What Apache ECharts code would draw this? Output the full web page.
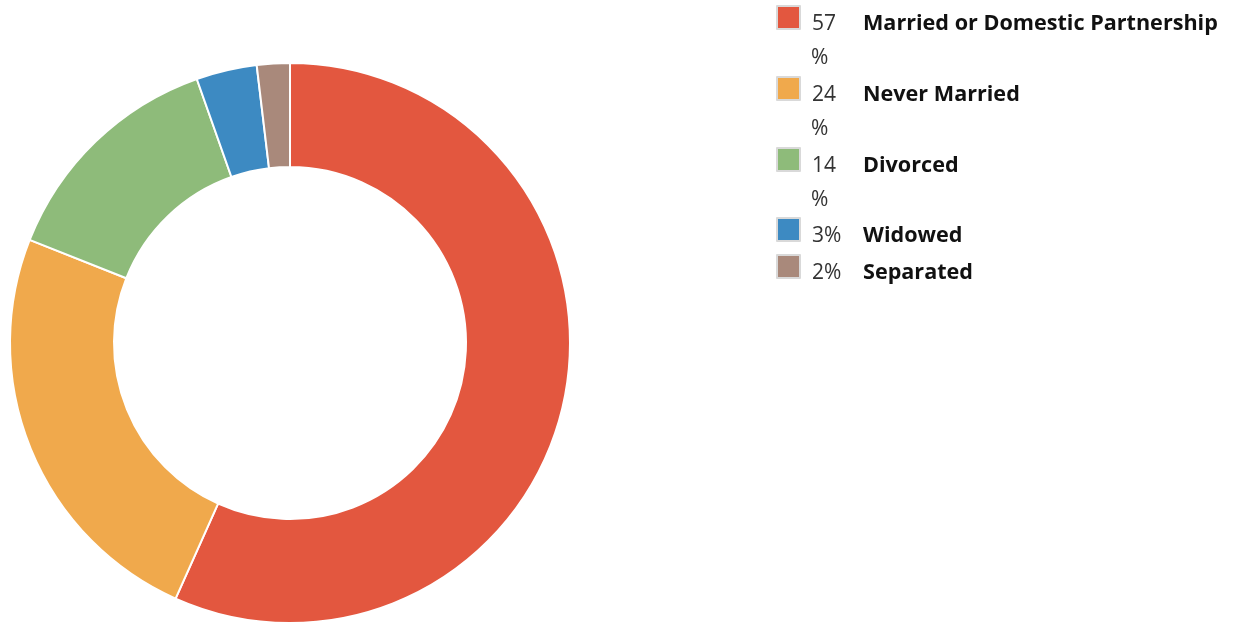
<!DOCTYPE html>
<html>
<head>
<meta charset="utf-8">
<script src="https://cdn.jsdelivr.net/npm/echarts@6/dist/echarts.min.js"></script>
<style>
  html, body { margin: 0; padding: 0; background: #fff; }
  #chart { width: 1236px; height: 631px; }
</style>
</head>
<body>
<div id="chart"></div>
<script>
const categories = ['Married or Domestic Partnership', 'Never Married', 'Divorced', 'Widowed', 'Separated'];
const shares = [56.7, 24.3, 13.6, 3.5, 1.9];
const shownPct = [57, 24, 14, 3, 2];
const colors = ['#E3573F', '#F0A94C', '#8EBB7A', '#3D8AC2', '#A9897B'];

// legend rows (top of each swatch)
const rowTops = [5, 76, 147, 217, 254];
const wrapOffset = 35; // "57%" wraps in the narrow percent column

const richStyles = {
  g: { width: 7 },
  p: { width: 51, fontSize: 21, fontFamily: 'Open Sans', color: '#333' },
  n: { fontSize: 21.6, fontFamily: 'Open Sans', fontWeight: 'bold', color: '#111' }
};

function legendRow(i, top, pctLine) {
  const wraps = shownPct[i] >= 10;
  return {
    data: [categories[i]],
    left: 776,
    top: top,
    orient: 'vertical',
    padding: 0,
    itemWidth: 23,
    itemHeight: 23,
    icon: pctLine ? 'none' : 'rect',
    itemStyle: { borderColor: '#d9d9d9', borderWidth: 2 },
    selectedMode: false,
    formatter: function (name) {
      if (pctLine) return '{g|}{p|%}';
      const pct = wraps ? String(shownPct[i]) : shownPct[i] + '%';
      return '{g|}{p|' + pct + '}{n|' + name + '}';
    },
    textStyle: { padding: [13, 0, 0, 0], rich: richStyles }
  };
}

const legends = [];
categories.forEach(function (c, i) {
  legends.push(legendRow(i, rowTops[i], false));
  if (shownPct[i] >= 10) legends.push(legendRow(i, rowTops[i] + wrapOffset, true));
});

const myChart = echarts.init(document.getElementById('chart'));
myChart.setOption({
  animation: false,
  color: colors,
  legend: legends,
  series: [
    {
      type: 'pie',
      center: [290, 343],
      radius: [176, 280],
      startAngle: 90,
      clockwise: true,
      label: { show: false },
      labelLine: { show: false },
      emphasis: { scale: false },
      itemStyle: { borderColor: '#fff', borderWidth: 2 },
      data: categories.map(function (c, i) {
        return { name: c, value: shares[i] };
      })
    }
  ]
});
</script>
</body>
</html>
